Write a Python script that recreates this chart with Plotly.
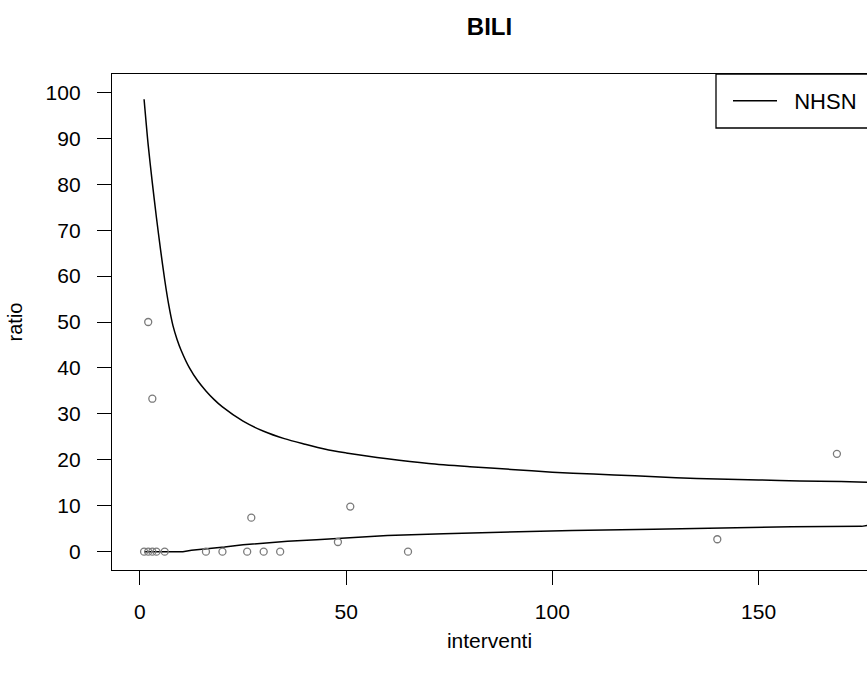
import plotly.graph_objects as go

# Observed hospitals: number of procedures and infection ratio (%)
interventi = [1, 2, 2, 3, 3, 4, 6, 16, 20, 26, 27, 30, 34, 48, 51, 65, 140, 169]
ratio = [0, 0, 50, 0, 33.3, 0, 0, 0, 0, 0, 7.4, 0, 0, 2.1, 9.8, 0, 2.7, 21.3]

# NHSN reference limits (upper and lower curves)
upper_x = [1, 2, 3, 4, 5, 6, 7, 8, 9, 10, 12, 14, 16, 18, 20, 25, 30, 35, 40, 45,
           50, 55, 60, 70, 80, 90, 100, 110, 120, 130, 140, 150, 160, 170, 178]
upper_y = [98.5, 88.5, 80.3, 72.7, 65.7, 59.2, 53.6, 49.2, 46.2, 43.8, 40.0,
           37.2, 35.0, 33.1, 31.5, 28.4, 26.2, 24.6, 23.4, 22.3, 21.5, 20.8,
           20.2, 19.2, 18.5, 17.9, 17.3, 16.9, 16.5, 16.1, 15.8, 15.6, 15.4,
           15.25, 15.1]
lower_x = [1, 10.4, 12.5, 16.5, 20.5, 25, 29.8, 35.8, 42.8, 50.2, 60, 73.6, 86.7,
           104.8, 124.5, 137, 158, 175, 178]
lower_y = [0, 0, 0.3, 0.6, 1.0, 1.5, 1.9, 2.25, 2.6, 3.0, 3.5, 3.9, 4.2, 4.6, 4.9,
           5.1, 5.4, 5.5, 5.9]

x_ticks = [0, 50, 100, 150]
y_ticks = list(range(0, 101, 10))

FONT = "Liberation Sans, Arial, sans-serif"
W, H = 867, 678
L, R, T, B = 112, 0, 74, 108

fig = go.Figure()
fig.add_trace(go.Scatter(x=upper_x, y=upper_y, mode="lines",
                         name="\u00a0\u00a0NHSN",
                         line=dict(color="black", width=1.5, shape="spline",
                                   smoothing=0.8),
                         showlegend=True))
fig.add_trace(go.Scatter(x=lower_x, y=lower_y, mode="lines", name="NHSN low",
                         line=dict(color="black", width=1.5),
                         showlegend=False))
fig.add_trace(go.Scatter(x=interventi, y=ratio, mode="markers", name="ratio",
                         marker=dict(symbol="circle-open", size=7,
                                     color="#7a7a7a", line=dict(width=1.3)),
                         showlegend=False))

# legend frame running off the right edge of the plot
plot_w = W - L - R
plot_h = H - T - B
fig.add_shape(type="rect", xref="paper", yref="paper",
              x0=(716 - L) / plot_w, x1=1.1, y0=1 - (128 - T) / plot_h, y1=1,
              line=dict(color="black", width=1.3), fillcolor="rgba(0,0,0,0)")

fig.update_layout(
    width=W, height=H,
    margin=dict(l=L, r=R, t=T, b=B),
    paper_bgcolor="white", plot_bgcolor="white",
    font=dict(family=FONT, size=21, color="black"),
    title=dict(text="<b>BILI</b>", x=0.5, xref="paper", xanchor="center",
               y=1 - 27 / H, yref="container", yanchor="middle",
               font=dict(size=24, family=FONT, color="black")),
    showlegend=True,
    legend=dict(x=(728 - L) / plot_w, xanchor="left", y=1 - 6 / plot_h,
                yanchor="top", bgcolor="rgba(0,0,0,0)", borderwidth=0,
                font=dict(size=22, family=FONT), itemwidth=44),
)
fig.update_xaxes(range=[-6.78, 176.3], tickvals=x_ticks, ticks="outside",
                 ticklen=14, tickcolor="black", showgrid=False, zeroline=False,
                 showline=True, linecolor="black", linewidth=1.3, mirror=True,
                 ticklabelstandoff=9,
                 title=dict(text="interventi", standoff=10,
                            font=dict(size=21)))
fig.update_yaxes(range=[-4, 104], tickvals=y_ticks, ticks="outside",
                 ticklen=14, tickcolor="black", showgrid=False, zeroline=False,
                 showline=True, linecolor="black", linewidth=1.3, mirror=False,
                 ticklabelstandoff=12,
                 title=dict(text="ratio", standoff=17, font=dict(size=20)))

fig.write_html("out.html")
